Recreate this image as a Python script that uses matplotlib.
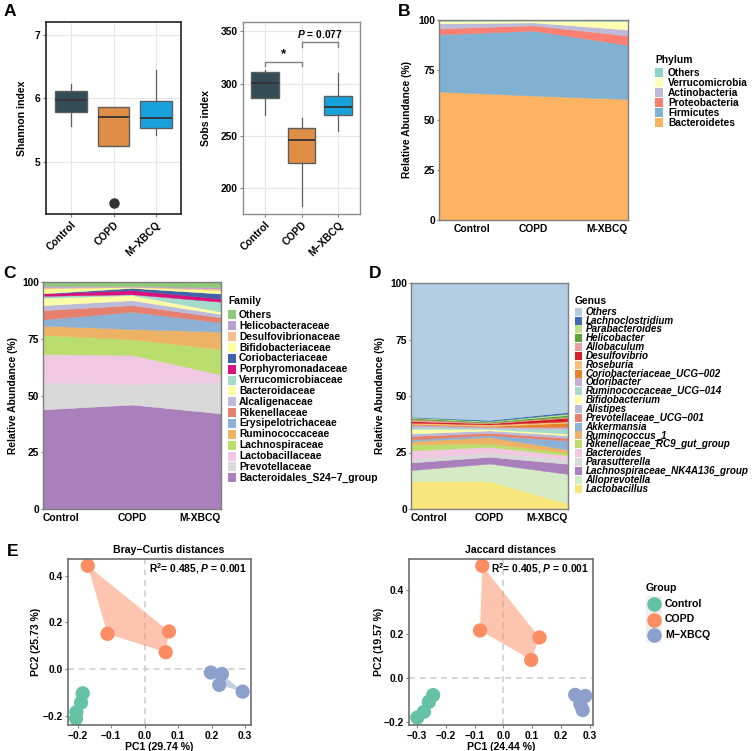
import matplotlib
matplotlib.use('Agg')
import matplotlib.pyplot as plt
from matplotlib.patches import Rectangle
from matplotlib.lines import Line2D
import numpy as np

plt.rcParams['font.family'] = ['Liberation Sans', 'DejaVu Sans']
plt.rcParams['font.weight'] = 'bold'
plt.rcParams['axes.labelweight'] = 'bold'
plt.rcParams['mathtext.fontset'] = 'custom'
plt.rcParams['mathtext.it'] = 'Liberation Sans:italic:bold'
plt.rcParams['mathtext.rm'] = 'Liberation Sans:bold'

W, H = 753, 751

# ---- data ----
groups = ['Control', 'COPD', 'M\u2212XBCQ']
groups_plain = ['Control', 'COPD', 'M-XBCQ']
box_colors = ['#334C56', '#E08D45', '#17A2DB']

shannon_q1 = [5.79, 5.25, 5.54]
shannon_med = [5.97, 5.71, 5.69]
shannon_q3 = [6.12, 5.87, 5.96]
shannon_lo = [5.56, 5.25, 5.43]
shannon_hi = [6.22, 5.87, 6.45]
shannon_out = [[], [4.35], []]

sobs_q1 = [286, 224, 270]
sobs_med = [301, 246, 278]
sobs_q3 = [311, 257, 288]
sobs_lo = [270, 183, 255]
sobs_hi = [313, 267, 310]
sobs_out = [[], [], []]

# phylum, bottom to top
phylum_names = ['Bacteroidetes', 'Firmicutes', 'Proteobacteria', 'Actinobacteria', 'Verrucomicrobia', 'Others']
phylum_colors = ['#FDB462', '#80B1D3', '#FB8072', '#BEBADA', '#FFFFB3', '#8DD3C7']
phylum_vals = [
    [64.2, 62.2, 60.5],
    [28.6, 32.5, 27.0],
    [3.0, 2.6, 4.7],
    [2.5, 1.5, 3.0],
    [1.2, 0.9, 4.3],
    [0.5, 0.3, 0.5],
]

# family, bottom to top
family_names = ['Bacteroidales_S24\u22127_group', 'Prevotellaceae', 'Lactobacillaceae', 'Lachnospiraceae',
                'Ruminococcaceae', 'Erysipelotrichaceae', 'Rikenellaceae', 'Alcaligenaceae', 'Bacteroidaceae',
                'Verrucomicrobiaceae', 'Porphyromonadaceae', 'Coriobacteriaceae', 'Bifidobacteriaceae',
                'Desulfovibrionaceae', 'Helicobacteraceae', 'Others']
family_colors = ['#A97FBC', '#D9D9D9', '#F0C8E1', '#BBDD6E', '#EEB266', '#8DB0D5', '#E5806F', '#BEBADA',
                 '#FFFFAA', '#A4DBCB', '#D9117D', '#4162AA', '#FFFF99', '#F2C08F', '#B7A2CF', '#90C978']
family_vals = [
    [43.9, 46.0, 42.1],
    [11.9, 9.1, 13.9],
    [12.4, 12.8, 3.2],
    [8.5, 6.9, 11.3],
    [4.1, 4.5, 7.6],
    [2.7, 7.6, 4.1],
    [4.1, 2.9, 2.2],
    [2.2, 2.2, 1.5],
    [3.2, 2.2, 1.0],
    [0.9, 0.4, 4.4],
    [1.0, 1.8, 1.4],
    [0.1, 1.0, 2.2],
    [2.1, 0.4, 1.5],
    [0.6, 0.2, 0.7],
    [0.7, 0.2, 0.7],
    [1.6, 1.8, 2.2],
]

# genus, bottom to top
genus_names = ['Lactobacillus', 'Alloprevotella', 'Lachnospiraceae_NK4A136_group', 'Parasutterella',
               'Bacteroides', 'Rikenellaceae_RC9_gut_group', 'Ruminococcus_1', 'Akkermansia',
               'Prevotellaceae_UCG\u2212001', 'Alistipes', 'Bifidobacterium', 'Ruminococcaceae_UCG\u2212014',
               'Odoribacter', 'Coriobacteriaceae_UCG\u2212002', 'Roseburia', 'Desulfovibrio', 'Allobaculum',
               'Helicobacter', 'Parabacteroides', 'Lachnoclostridium', 'Others']
genus_colors = ['#F6E67C', '#D4EBC5', '#A97FBC', '#D9D9D9', '#F0C8E1', '#BBDD6E', '#EEB266', '#8DB0D5',
                '#E5806F', '#BEBADA', '#FFFFAA', '#A8DACB', '#C9AED8', '#E8822A', '#F5C07A', '#D42027',
                '#E8A0A0', '#5EA33A', '#C2E08A', '#3F6FB0', '#B3CDE3']
genus_vals = [
    [12.3, 12.3, 2.4],
    [4.9, 7.8, 13.1],
    [3.4, 3.0, 4.5],
    [1.6, 1.8, 1.9],
    [3.7, 2.6, 1.8],
    [2.7, 1.5, 1.2],
    [1.4, 2.8, 1.4],
    [0.8, 0.8, 4.0],
    [1.5, 1.1, 1.2],
    [1.1, 1.1, 1.1],
    [2.1, 0.6, 0.7],
    [0.9, 0.4, 2.2],
    [0.9, 0.6, 0.8],
    [0.4, 0.3, 1.9],
    [0.5, 0.7, 0.6],
    [0.7, 0.5, 1.6],
    [0.8, 0.3, 0.4],
    [0.6, 0.4, 0.8],
    [0.3, 0.3, 0.6],
    [0.2, 0.5, 0.7],
    [59.2, 60.6, 57.1],
]

# PCoA coordinates
group_colors = ['#66C2A5', '#FC8D62', '#8DA0CB']
bray_x = [[-0.185, -0.190, -0.204, -0.205], [-0.170, -0.111, 0.073, 0.063], [0.198, 0.231, 0.223, 0.293]]
bray_y = [[-0.104, -0.144, -0.185, -0.212], [0.443, 0.151, 0.161, 0.072], [-0.015, -0.021, -0.068, -0.097]]
jac_x = [[-0.244, -0.259, -0.276, -0.299], [-0.073, -0.081, 0.126, 0.097], [0.250, 0.285, 0.276, 0.268]]
jac_y = [[-0.079, -0.110, -0.155, -0.181], [0.509, 0.215, 0.183, 0.081], [-0.078, -0.083, -0.147, -0.120]]

fig = plt.figure(figsize=(W / 100, H / 100), dpi=100)


def add_ax(l, t, r, b):
    return fig.add_axes([l / W, 1 - b / H, (r - l) / W, (b - t) / H])


def style_ax(ax, spine_color='#7F7F7F', lw=1.0):
    for s in ax.spines.values():
        s.set_color(spine_color)
        s.set_linewidth(lw)
    ax.tick_params(labelsize=7.4, colors='#7F7F7F', labelcolor='black', length=2.5, width=0.8, pad=1.5)


def convex_hull(xs, ys):
    pts = sorted(set(zip(xs, ys)))
    if len(pts) < 3:
        return pts

    def cross(o, a, b):
        return (a[0] - o[0]) * (b[1] - o[1]) - (a[1] - o[1]) * (b[0] - o[0])
    lower, upper = [], []
    for p in pts:
        while len(lower) >= 2 and cross(lower[-2], lower[-1], p) <= 0:
            lower.pop()
        lower.append(p)
    for p in reversed(pts):
        while len(upper) >= 2 and cross(upper[-2], upper[-1], p) <= 0:
            upper.pop()
        upper.append(p)
    return lower[:-1] + upper[:-1]


def draw_box(ax, q1, med, q3, lo, hi, out):
    stats = []
    for i in range(3):
        stats.append(dict(q1=q1[i], med=med[i], q3=q3[i], whislo=lo[i], whishi=hi[i], fliers=out[i]))
    bp = ax.bxp(stats, positions=[1, 2, 3], widths=0.75, patch_artist=True, showcaps=False,
                boxprops=dict(edgecolor='#5E5E5E', linewidth=1.0),
                medianprops=dict(color='#333333', linewidth=1.3),
                whiskerprops=dict(color='#5E5E5E', linewidth=0.9),
                flierprops=dict(marker='o', markerfacecolor='#333333', markeredgecolor='#333333', markersize=6.5))
    for patch, c in zip(bp['boxes'], box_colors):
        patch.set_facecolor(c)
    ax.set_xlim(0.4, 3.6)
    ax.set_xticks([1, 2, 3])
    ax.set_xticklabels(groups, rotation=45, ha='right', rotation_mode='anchor')
    ax.grid(color='#E6E6E6', linewidth=0.8)
    ax.set_axisbelow(True)


# ---- A: Shannon ----
ax = add_ax(46, 22, 181, 214)
draw_box(ax, shannon_q1, shannon_med, shannon_q3, shannon_lo, shannon_hi, shannon_out)
ax.set_ylim(4.18, 7.2)
ax.set_yticks([5, 6, 7])
style_ax(ax, '#222222', 1.2)
ax.set_ylabel('Shannon index', fontsize=7.6)
ax.yaxis.set_label_coords(-0.14, 0.5)

# ---- A: Sobs ----
ax = add_ax(243, 22, 360, 214)
draw_box(ax, sobs_q1, sobs_med, sobs_q3, sobs_lo, sobs_hi, sobs_out)
ax.set_ylim(175, 359)
ax.set_yticks([200, 250, 300, 350])
style_ax(ax, '#8C8C8C', 1.0)
ax.set_ylabel('Sobs index', fontsize=7.6)
ax.yaxis.set_label_coords(-0.27, 0.5)
ax.plot([1, 1, 2, 2], [317, 320.8, 320.8, 317], color='#7F7F7F', lw=1)
ax.plot([2, 2, 3, 3], [335.5, 339.4, 339.4, 335.5], color='#7F7F7F', lw=1)
ax.text(1.5, 322.5, '*', ha='center', va='bottom', fontsize=9.5)
ax.text(2.5, 341.5, r'$\mathit{P}$ = 0.077', ha='center', va='bottom', fontsize=7.4)


# ---- stacked areas ----
def draw_area(ax, vals, colors, tick_pos):
    ax.stackplot([1, 2, 3], *vals, colors=colors, linewidth=0.3, edgecolor='face')
    ax.set_xlim(1, 3)
    ax.set_ylim(0, 100)
    ax.set_yticks([0, 25, 50, 75, 100])
    ax.set_xticks(tick_pos)
    ax.set_xticklabels(groups_plain)
    for t, ha in zip(ax.get_xticklabels(), ['left', 'center', 'right']):
        t.set_ha(ha)
    style_ax(ax, '#7F7F7F', 1.0)
    ax.tick_params(axis='x', length=0, pad=3)
    ax.tick_params(axis='y', length=1.5)
    ax.set_ylabel('Relative Abundance (%)', fontsize=7.4)


def draw_legend(title, names, colors, x, y_title, y0, step, sw, sh, tx, size=7.4, italic=False):
    fig.text(x / W, 1 - y_title / H, title, fontsize=7.4, weight='bold', va='center', ha='left')
    for i, (name, c) in enumerate(zip(names, colors)):
        yc = y0 + i * step
        fig.add_artist(Rectangle((x / W, 1 - (yc + sh / 2) / H), sw / W, sh / H,
                                 transform=fig.transFigure, facecolor=c, edgecolor='none'))
        fig.text(tx / W, 1 - yc / H, name, fontsize=size, weight='bold', va='center', ha='left',
                 style='italic' if italic else 'normal')


ax = add_ax(439, 20, 628, 220)
draw_area(ax, phylum_vals, phylum_colors, [1.16, 2, 3])
ax.yaxis.set_label_coords(-0.145, 0.5)
draw_legend('Phylum', phylum_names[::-1], phylum_colors[::-1], 655, 60, 72.5, 10, 8, 9, 668, size=7.3)

ax = add_ax(43, 282, 221, 509)
draw_area(ax, family_vals, family_colors, [1, 2, 3])
ax.yaxis.set_label_coords(-0.14, 0.5)
draw_legend('Family', family_names[::-1], family_colors[::-1], 228, 300.5, 315, 10.85, 7.5, 9, 239)

ax = add_ax(411, 283, 568, 509)
draw_area(ax, genus_vals, genus_colors, [1, 2, 3])
ax.yaxis.set_label_coords(-0.165, 0.5)
draw_legend('Genus', genus_names[::-1], genus_colors[::-1], 575, 300.5, 311.7, 8.84, 7, 8, 585.5,
            size=7.1, italic=True)


# ---- E: PCoA ----
def draw_pcoa(ax, xs, ys, xlim, ylim, title, xlabel, ylabel, ann, ylab_x):
    ax.axhline(0, color='#CCCCCC', lw=1.1, ls=(0, (4, 3)), zorder=0)
    ax.axvline(0, color='#CCCCCC', lw=1.1, ls=(0, (4, 3)), zorder=0)
    for gx, gy, c in zip(xs, ys, group_colors):
        hull = convex_hull(gx, gy)
        hx = [p[0] for p in hull]
        hy = [p[1] for p in hull]
        ax.fill(hx, hy, color=c, alpha=0.5, lw=0, zorder=1)
        ax.scatter(gx, gy, s=105, color=c, edgecolors='none', zorder=2)
    ax.set_xticks([-0.3, -0.2, -0.1, 0.0, 0.1, 0.2, 0.3])
    ax.set_yticks([-0.2, 0.0, 0.2, 0.4])
    ax.set_xlim(*xlim)
    ax.set_ylim(*ylim)
    style_ax(ax, '#6E6E6E', 1.2)
    ax.set_title(title, fontsize=7.6, weight='bold', x=0.55, pad=4)
    ax.set_xlabel(xlabel, fontsize=7.6, labelpad=1)
    ax.set_ylabel(ylabel, fontsize=7.6)
    ax.yaxis.set_label_coords(ylab_x, 0.5)
    ax.text(0.978, 0.945, ann, transform=ax.transAxes, ha='right', va='center', fontsize=7.4)


ax = add_ax(68, 559, 251, 725)
draw_pcoa(ax, bray_x, bray_y, (-0.229, 0.318), (-0.24, 0.472), 'Bray\u2212Curtis distances',
          'PC1 (29.74 %)', 'PC2 (25.73 %)', r'R$^{2}$= 0.485, $\mathit{P}$ = 0.001', -0.15)

ax = add_ax(409, 559, 593, 725)
draw_pcoa(ax, jac_x, jac_y, (-0.328, 0.312), (-0.215, 0.54), 'Jaccard distances',
          'PC1 (24.44 %)', 'PC2 (19.57 %)', r'R$^{2}$= 0.405, $\mathit{P}$ = 0.001', -0.135)

# group legend
fig.text(646 / W, 1 - 588 / H, 'Group', fontsize=7.6, weight='bold', va='center')
for i, (name, c) in enumerate(zip(groups, group_colors)):
    yc = 604 + i * 15.5
    fig.add_artist(Rectangle((645.5 / W, 1 - (yc + 8) / H), 16 / W, 16 / H, transform=fig.transFigure,
                             facecolor='#F0F0F0', edgecolor='none'))
    fig.add_artist(Line2D([653.5 / W], [1 - yc / H], marker='o', markersize=10.5, color=c,
                          markeredgewidth=0, transform=fig.transFigure))
    fig.text(665 / W, 1 - yc / H, name, fontsize=7.6, weight='bold', va='center')

# panel letters
for letter, x, y in [('A', 10, 12), ('B', 404, 12), ('C', 10, 273), ('D', 375, 273), ('E', 13, 552)]:
    fig.text(x / W, 1 - y / H, letter, fontsize=12.5, weight='bold', va='center', ha='center')

fig.savefig('out.png', dpi=100)
